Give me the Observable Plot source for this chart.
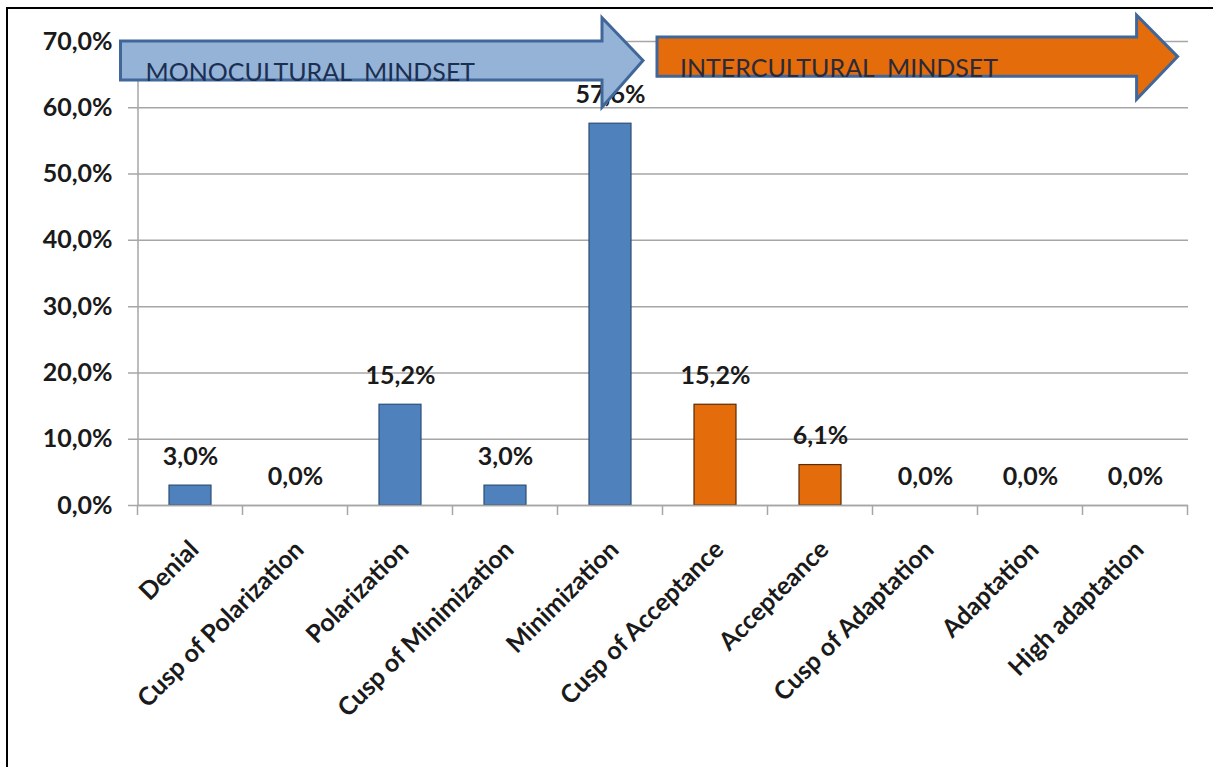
<!DOCTYPE html>
<html>
<head>
<meta charset="utf-8">
<script src="https://cdn.jsdelivr.net/npm/d3@7"></script>
<script src="https://cdn.jsdelivr.net/npm/@observablehq/plot@0.6"></script>
<style>
  html, body { margin: 0; padding: 0; background: #fff; }
  #frame { position: absolute; left: 6px; top: 7px; width: 1207px; height: 760px;
           border-left: 2px solid #000; border-top: 2px solid #000; box-sizing: border-box; }
  #chart { position: absolute; left: 0; top: 0; }
</style>
</head>
<body>
<div id="frame"></div>
<div id="chart"></div>
<script>
// ---- data ----
const categories = ["Denial", "Cusp of Polarization", "Polarization", "Cusp of Minimization", "Minimization",
  "Cusp of Acceptance", "Accepteance", "Cusp of Adaptation", "Adaptation", "High adaptation"];
const percentages = [3.0, 0.0, 15.2, 3.0, 57.6, 15.2, 6.1, 0.0, 0.0, 0.0];
const mindsets = ["mono", "mono", "mono", "mono", "mono", "inter", "inter", "inter", "inter", "inter"];
const yTicks = [0, 10, 20, 30, 40, 50, 60, 70];
const arrowLabels = ["MONOCULTURAL  MINDSET", "INTERCULTURAL  MINDSET"];
const arrowFrom = ["Denial", "Cusp of Acceptance"];
const arrowTo = ["Minimization", "High adaptation"];
const arrowMindset = ["mono", "inter"];

// ---- styles ----
const barFill = {mono: "#4f81bd", inter: "#e46c0a"};
const barStroke = {mono: "#2c4d75", inter: "#5a2a05"};
const arrowFill = {mono: "#95b3d7", inter: "#e46c0a"};
const arrowText = {mono: "#1b2f52", inter: "#2a2a3a"};
const font = "Lato, 'Open Sans', sans-serif";
const fmt = d => d3.format(".1f")(d).replace(".", ",") + "%";

const data = categories.map((c, i) => ({category: c, value: percentages[i], mindset: mindsets[i]}));
const arrows = arrowLabels.map((l, i) => ({label: l, from: arrowFrom[i], to: arrowTo[i], mindset: arrowMindset[i]}));

// arrow geometry (style), relative to the band positions / y scale
const arrowGeom = {
  mono:  {left: -48.5, base: 13, tip: 54, bodyTop: 70.0, bodyBottom: 64.1, headTop: 73.5, headBottom: 60.0, textDx: -23.5, textY: 64.0},
  inter: {left: -37, base: 22.6, tip: 63.6, bodyTop: 70.6, bodyBottom: 64.7, headTop: 73.9, headBottom: 61.2, textDx: -14, textY: 64.5}
};

function xTicksMark(index, scales) {
  const x = scales.x, y = scales.y;
  const step = x(categories[1]) - x(categories[0]);
  const g = d3.create("svg:g");
  const y0 = y(0);
  for (let i = 0; i <= categories.length; i++) {
    const bx = x(categories[0]) - step * 0.3 + i * step;
    g.append("line").attr("x1", bx).attr("x2", bx).attr("y1", y0).attr("y2", y0 + 10)
      .attr("stroke", "#a6a6a6").attr("stroke-width", 1.5);
  }
  return g.node();
}

function arrowsMark(index, scales) {
  const x = scales.x, y = scales.y;
  const g = d3.create("svg:g");
  for (const a of arrows) {
    const s = arrowGeom[a.mindset];
    const xl = x(a.from) + s.left, xb = x(a.to) + s.base, xt = x(a.to) + s.tip;
    const bt = y(s.bodyTop), bb = y(s.bodyBottom), ht = y(s.headTop), hb = y(s.headBottom);
    const ty = (bt + bb) / 2;
    const pts = [[xl, bt], [xb, bt], [xb, ht], [xt, ty], [xb, hb], [xb, bb], [xl, bb]];
    g.append("path").attr("d", "M" + pts.map(p => p.join(",")).join("L") + "Z")
      .attr("fill", arrowFill[a.mindset]).attr("stroke", "#41679a").attr("stroke-width", 3)
      .attr("stroke-linejoin", "miter");
    g.append("text").attr("x", x(a.from) + s.textDx).attr("y", y(s.textY))
      .attr("text-anchor", "start")
      .attr("fill", arrowText[a.mindset]).attr("font-family", font).attr("font-size", 25)
      .style("white-space", "pre")
      .text(a.label);
  }
  return g.node();
}

const plot = Plot.plot({
  width: 1213,
  height: 767,
  marginLeft: 137,
  marginRight: 25,
  marginTop: 41,
  marginBottom: 262,
  style: {fontFamily: font, background: "transparent", overflow: "visible"},
  x: {domain: categories, paddingInner: 0.6, paddingOuter: 0.3, label: null},
  y: {domain: [0, 70], label: null},
  marks: [
    Plot.gridY(yTicks, {stroke: "#a6a6a6", strokeOpacity: 1, strokeWidth: 1.5, insetLeft: -9}),
    Plot.ruleX([categories[0]], {dx: -52.5, y1: 0, y2: 70, stroke: "#a6a6a6", strokeWidth: 1.5}),
    xTicksMark,
    Plot.axisY(yTicks, {tickSize: 0, tickPadding: 25, tickFormat: fmt, fontSize: 25, fontWeight: "bold", fill: "#1a1a1a", label: null}),
    Plot.axisX({tickSize: 0, tickPadding: 40, tickRotate: -45, fontSize: 25, fontWeight: "bold", fill: "#1a1a1a", dx: 4, label: null}),
    Plot.barY(data.filter(d => d.mindset === "mono"), {x: "category", y: "value", fill: barFill.mono, stroke: barStroke.mono, strokeWidth: 1.2}),
    Plot.barY(data.filter(d => d.mindset === "inter"), {x: "category", y: "value", fill: barFill.inter, stroke: barStroke.inter, strokeWidth: 1.2}),
    Plot.ruleY([0], {stroke: "#a6a6a6", strokeWidth: 1.5}),
    Plot.text(data, {x: "category", y: "value", text: d => fmt(d.value), dy: -29, lineAnchor: "middle",
      fontSize: 25, fontWeight: "bold", fill: "#1a1a1a"}),
    arrowsMark
  ]
});
document.getElementById("chart").appendChild(plot);
</script>
</body>
</html>
